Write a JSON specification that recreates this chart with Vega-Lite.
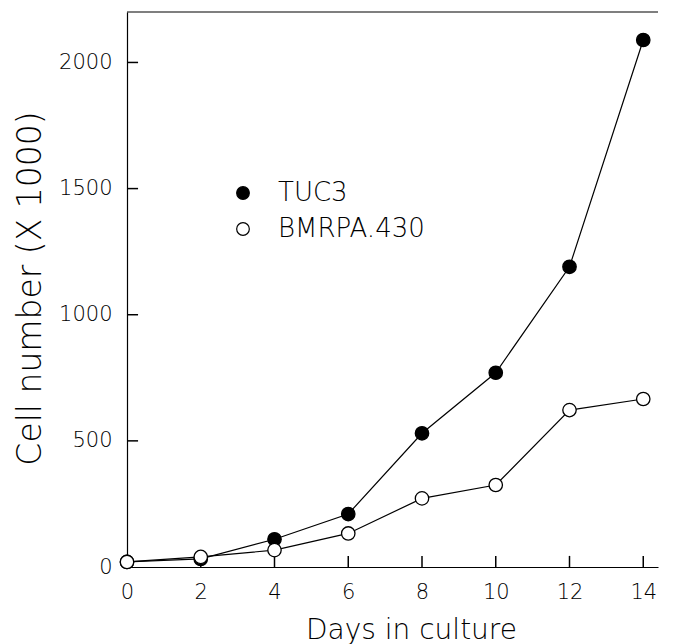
{
  "$schema": "https://vega.github.io/schema/vega-lite/v6.json",
  "width": 531,
  "height": 555,
  "autosize": {"type": "none"},
  "padding": {"left": 127, "top": 12, "right": 16, "bottom": 77},
  "background": "white",
  "config": {
    "view": {"stroke": null},
    "font": "DejaVu Sans",
    "axis": {"labelFont": "DejaVu Sans", "titleFont": "DejaVu Sans", "labelFontWeight": 200, "titleFontWeight": 200, "labelColor": "black", "titleColor": "black", "domainColor": "black", "tickColor": "black", "grid": false}
  },
  "layer": [
    {
      "data": {"values": [{"a": 0}]},
      "mark": {"type": "rule", "color": "black", "strokeWidth": 1.2},
      "encoding": {
        "x": {"datum": 0, "type": "quantitative", "scale": {"domain": [0, 14.4], "nice": false, "zero": false},
          "axis": {
            "title": "Days in culture", "values": [0, 2, 4, 6, 8, 10, 12, 14],
            "ticks": false, "labelPadding": 14, "labelFontSize": 21,
            "titleFontSize": 28, "titleX": 284, "titleY": 71, "titleBaseline": "alphabetic", "titleAlign": "center",
            "domainWidth": 1.2, "labelFlush": false
          }
        },
        "x2": {"datum": 14.4},
        "y": {"datum": 2200, "type": "quantitative", "scale": {"domain": [0, 2200], "nice": false},
          "axis": {
            "title": "Cell number (X 1000)", "values": [0, 500, 1000, 1500, 2000], "format": "d",
            "ticks": false, "labelPadding": 15, "labelFontSize": 21,
            "titleFontSize": 33, "titleX": -87, "titleY": 276, "titleAngle": -90, "titleBaseline": "alphabetic", "titleAlign": "center",
            "domainWidth": 1.2, "labelFlush": false
          }
        }
      }
    },
    {
      "data": {"values": [{"v": 2}, {"v": 4}, {"v": 6}, {"v": 8}, {"v": 10}, {"v": 12}, {"v": 14}]},
      "mark": {"type": "rule", "color": "black", "strokeWidth": 1.5},
      "encoding": {"x": {"field": "v", "type": "quantitative"}, "y": {"datum": 0}, "y2": {"datum": 44}}
    },
    {
      "data": {"values": [{"v": 500}, {"v": 1000}, {"v": 1500}, {"v": 2000}]},
      "mark": {"type": "rule", "color": "black", "strokeWidth": 1.5},
      "encoding": {"y": {"field": "v", "type": "quantitative"}, "x": {"datum": 0}, "x2": {"datum": 0.3}}
    },
    {
      "data": {"values": [
        {"day": 0, "cells": 20, "series": "TUC3"},
        {"day": 2, "cells": 32, "series": "TUC3"},
        {"day": 4, "cells": 110, "series": "TUC3"},
        {"day": 6, "cells": 210, "series": "TUC3"},
        {"day": 8, "cells": 530, "series": "TUC3"},
        {"day": 10, "cells": 770, "series": "TUC3"},
        {"day": 12, "cells": 1190, "series": "TUC3"},
        {"day": 14, "cells": 2089, "series": "TUC3"},
        {"day": 0, "cells": 20, "series": "BMRPA.430"},
        {"day": 2, "cells": 40, "series": "BMRPA.430"},
        {"day": 4, "cells": 67, "series": "BMRPA.430"},
        {"day": 6, "cells": 133, "series": "BMRPA.430"},
        {"day": 8, "cells": 272, "series": "BMRPA.430"},
        {"day": 10, "cells": 325, "series": "BMRPA.430"},
        {"day": 12, "cells": 622, "series": "BMRPA.430"},
        {"day": 14, "cells": 666, "series": "BMRPA.430"}
      ]},
      "layer": [
        {
          "mark": {"type": "line", "color": "black", "strokeWidth": 1.2},
          "encoding": {
            "x": {"field": "day", "type": "quantitative"},
            "y": {"field": "cells", "type": "quantitative"},
            "detail": {"field": "series"}
          }
        },
        {
          "mark": {"type": "point", "shape": "circle", "filled": true, "stroke": "black", "strokeWidth": 1.3, "size": 180, "opacity": 1},
          "encoding": {
            "x": {"field": "day", "type": "quantitative"},
            "y": {"field": "cells", "type": "quantitative"},
            "fill": {
              "field": "series", "type": "nominal",
              "scale": {"domain": ["TUC3", "BMRPA.430"], "range": ["black", "white"]},
              "legend": {
                "title": null, "orient": "none", "legendX": 103, "legendY": 168,
                "symbolSize": 160, "symbolStrokeColor": "black", "symbolStrokeWidth": 1.2,
                "labelFontSize": 26, "labelFont": "DejaVu Sans", "labelFontWeight": 200, "labelColor": "black",
                "labelOffset": 22, "rowPadding": 10, "symbolType": "circle"
              }
            }
          }
        }
      ]
    }
  ]
}
